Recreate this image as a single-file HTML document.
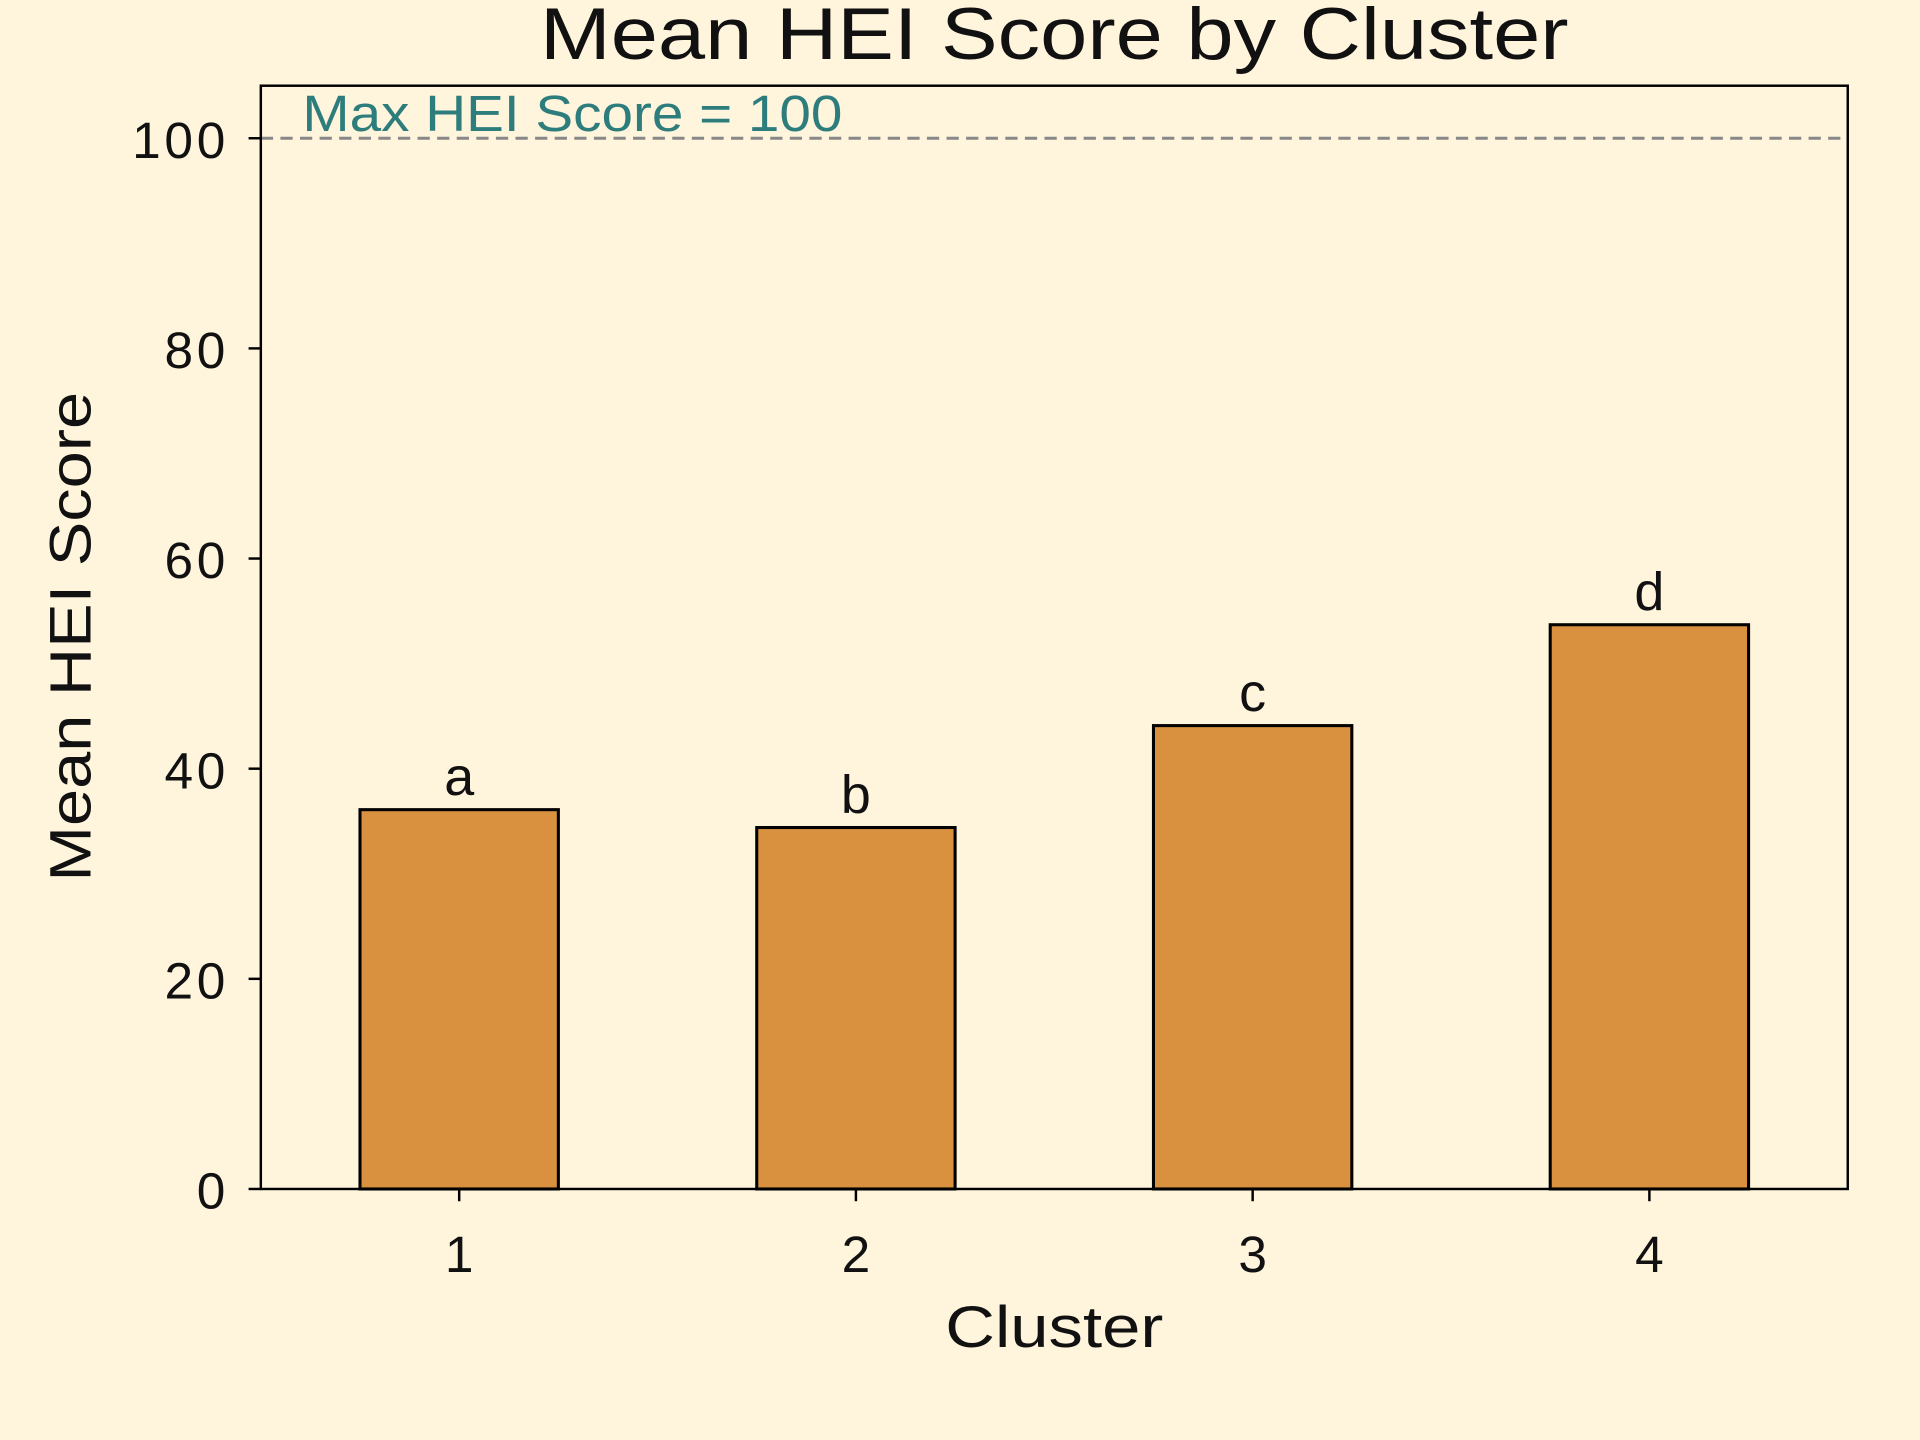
<!DOCTYPE html>
<html><head><meta charset="utf-8"><style>
html,body{margin:0;padding:0;background:#fff4dc;}
svg{display:block;font-family:"Liberation Sans",sans-serif;}
</style></head><body>
<svg id="chart" width="1920" height="1440" viewBox="0 0 1568 1176">
<rect x="0" y="0" width="1568" height="1176" fill="#fff4dc"/>
<g id="plot"></g>
</svg>
<script>
const categories = ["1","2","3","4"];
const values = [36.1, 34.4, 44.1, 53.7];
const letters = ["a","b","c","d"];
const yTicks = [0,20,40,60,80,100];
const maxScore = [100];

const L=213,R=1509,T=70,B=971;
const yMin=0,yMax=105,xMin=0.5,xMax=4.5,barW=0.5;
const xs=v=>L+(v-xMin)/(xMax-xMin)*(R-L);
const ys=v=>B-(v-yMin)/(yMax-yMin)*(B-T);
const NS="http://www.w3.org/2000/svg";
const g=document.getElementById('plot');
function mk(tag,attrs,text){const e=document.createElementNS(NS,tag);for(const k in attrs)e.setAttribute(k,attrs[k]);if(text!==undefined)e.textContent=text;g.appendChild(e);return e;}

categories.forEach((c,i)=>{
  const cx=xs(i+1),x0=xs(i+1-barW/2),x1=xs(i+1+barW/2);
  const b=mk('rect',{x:x0,y:ys(values[i]),width:x1-x0,height:ys(0)-ys(values[i]),fill:'#d9913f',stroke:'#000','stroke-width':2.5});
  
  
  const t=mk('text',{x:cx,y:ys(values[i])-12,'text-anchor':'middle','font-size':44,fill:'#111'},letters[i]);
  
  
  const tk=mk('line',{x1:cx,x2:cx,y1:B,y2:B+10,stroke:'#000','stroke-width':2});
  
  
  const tl=mk('text',{x:cx,y:B+68,'text-anchor':'middle','font-size':42,fill:'#111'},c);
  
  
});
yTicks.forEach(v=>{
  const y=ys(v);
  const tk=mk('line',{x1:L-10,x2:L,y1:y,y2:y,stroke:'#000','stroke-width':2});
  
  
  const tl=mk('text',{x:L-26,y:y+16,'text-anchor':'end','font-size':42,fill:'#111','letter-spacing':3},String(v));
  
  
});
const ml=mk('line',{x1:L,x2:R,y1:ys(maxScore[0]),y2:ys(maxScore[0]),stroke:'#888','stroke-width':2.5,'stroke-dasharray':'10,6'});


const mt=mk('text',{x:247,y:ys(maxScore[0])-6,'font-size':42,fill:'#2e7d7d',textLength:441,lengthAdjust:'spacingAndGlyphs'},'Max HEI Score = '+maxScore[0]);


const fr=mk('rect',{x:L,y:T,width:R-L,height:B-T,fill:'none',stroke:'#000','stroke-width':2});


const ti=mk('text',{x:441,y:48,'font-size':60,fill:'#111',textLength:840,lengthAdjust:'spacingAndGlyphs'},'Mean HEI Score by Cluster');


const xt=mk('text',{x:772,y:1100,'font-size':48,fill:'#111',textLength:178,lengthAdjust:'spacingAndGlyphs'},'Cluster');


const yt=mk('text',{x:-200,y:0,'font-size':48,fill:'#111',textLength:400,lengthAdjust:'spacingAndGlyphs',transform:'translate(74,520) rotate(-90)'},'Mean HEI Score');


</script>
</body></html>
